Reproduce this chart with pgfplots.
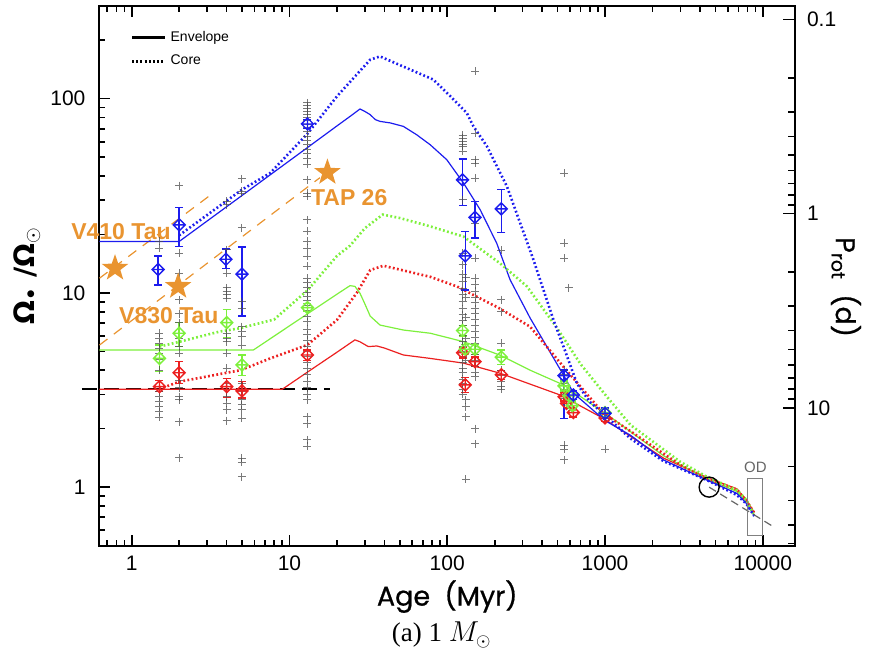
\documentclass[border=0pt]{standalone}
\usepackage{fontspec}
\setmainfont{Liberation Sans}
\newfontfamily\poppins{Poppins}[FakeBold=0.7]
\newfontfamily\dejavu{DejaVu Sans}
\newfontfamily\timesf{Liberation Serif}
\usepackage{pgfplots}
\pgfplotsset{compat=1.18}
\usepackage{pgfplotstable}

\definecolor{bluec}{RGB}{28,28,238}
\definecolor{greenc}{RGB}{125,240,60}
\definecolor{redc}{RGB}{236,32,32}
\definecolor{orangec}{RGB}{233,148,48}

\pgfdeclareplotmark{dplus}{%
  \pgfpathmoveto{\pgfqpoint{0pt}{\pgfplotmarksize}}%
  \pgfpathlineto{\pgfqpoint{\pgfplotmarksize}{0pt}}%
  \pgfpathlineto{\pgfqpoint{0pt}{-\pgfplotmarksize}}%
  \pgfpathlineto{\pgfqpoint{-\pgfplotmarksize}{0pt}}%
  \pgfpathclose
  \pgfpathmoveto{\pgfqpoint{-\pgfplotmarksize}{0pt}}%
  \pgfpathlineto{\pgfqpoint{\pgfplotmarksize}{0pt}}%
  \pgfpathmoveto{\pgfqpoint{0pt}{-\pgfplotmarksize}}%
  \pgfpathlineto{\pgfqpoint{0pt}{\pgfplotmarksize}}%
  \pgfusepathqstroke}
\pgfdeclareplotmark{fstar}{%
  \pgfpathmoveto{\pgfqpointpolar{90}{\pgfplotmarksize}}%
  \pgfpathlineto{\pgfqpointpolar{126}{0.40\pgfplotmarksize}}%
  \pgfpathlineto{\pgfqpointpolar{162}{\pgfplotmarksize}}%
  \pgfpathlineto{\pgfqpointpolar{198}{0.40\pgfplotmarksize}}%
  \pgfpathlineto{\pgfqpointpolar{234}{\pgfplotmarksize}}%
  \pgfpathlineto{\pgfqpointpolar{270}{0.40\pgfplotmarksize}}%
  \pgfpathlineto{\pgfqpointpolar{306}{\pgfplotmarksize}}%
  \pgfpathlineto{\pgfqpointpolar{342}{0.40\pgfplotmarksize}}%
  \pgfpathlineto{\pgfqpointpolar{18}{\pgfplotmarksize}}%
  \pgfpathlineto{\pgfqpointpolar{54}{0.40\pgfplotmarksize}}%
  \pgfpathclose
  \pgfusepathqfill}

\tikzset{env/.style={line width=0.6pt},
         core/.style={line width=1.3pt, dash pattern=on 0.9pt off 1.2pt}}
\pgfplotsset{ebar/.style={error bars/.cd, y dir=both, y explicit,
            error bar style={line width=0.7pt},
            error mark=-,
            error mark options={rotate=90, mark size=2pt, line width=0.7pt}}}

% ---------------- data ----------------
\pgfplotstableread{
x y
0.625 18.4
2.0 18.4
13 56
20 72.4
25 82.6
28 88.5
30 86
32.5 82.7
35 78
37.5 76.4
43.6 75
52.7 72
64 65.2
78 57.9
99.3 48.5
126.7 36.8
161.7 26.8
206 18.0
250 11.7
335 7.43
545 3.78
631 3.05
1000 2.2
1450 1.85
2350 1.38
4425 1.087
6860 0.928
7880 0.824
8830 0.71
}\blueenv
\pgfplotstableread{
x y
0.625 5.08
5.9 5.08
13 7.8
20 9.85
24.2 10.9
26 10.8
28 9.95
30 8.8
32.5 7.59
37.5 6.83
52.7 6.44
78 6.2
126.7 5.61
216 4.78
335 4.0
545 3.36
1079 2.30
2350 1.45
4425 1.10
6860 0.95
7880 0.84
8830 0.72
}\greenenv
\pgfplotstableread{
x y
0.625 3.19
9.0 3.19
13 3.91
20 4.95
26 5.73
28 5.6
31.6 5.29
35.8 5.33
40 5.2
52.7 4.79
78 4.6
126.7 4.35
216 3.86
520 2.98
975 2.26
2350 1.41
4425 1.12
6860 0.98
7880 0.86
8830 0.74
}\redenv
\pgfplotstableread{
x y
2.0 19.8
5 34
7.55 41.4
13 66
20 102.8
32.5 158.8
37.5 165
50 149
81.6 125.4
104.8 102.8
133 84.4
146.6 72
178.6 56.8
239 35.3
352 14.8
471 7.26
560 5.0
663 3.42
800 2.75
1000 2.35
1450 1.78
2350 1.36
4425 1.087
6860 0.91
7880 0.82
8830 0.71
}\bluecore
\pgfplotstableread{
x y
1.5 5.29
2.0 5.6
3.63 6.33
4.87 6.58
8 7.3
13 10.3
20 15.5
24.2 17.5
30 21.5
39 25.3
50 24.3
78 22
126.7 19.5
216 14.2
320 10.8
496 6.6
700 4.3
1000 3.0
1450 2.09
3000 1.35
4425 1.13
6860 0.965
7880 0.86
8700 0.73
}\greencore
\pgfplotstableread{
x y
1.5 3.2
2.0 3.49
4.9 4.0
7.55 4.6
13 5.4
20 7.26
26.7 10.0
32.5 13.1
39.4 13.8
78 12.1
115 10.8
216 8.3
335 6.7
545 4.17
975 2.40
1450 1.94
3000 1.30
4425 1.11
6860 0.97
7880 0.85
8800 0.74
}\redcore
\pgfplotstableread{
x y ep em
1.47 13.2 2.3 2.2
2.0 22.4 5.2 5.1
3.96 14.9 1.9 1.5
5.0 12.5 4.7 4.9
13 74.1 3.8 3.8
125 38.2 10.7 10.1
130 15.5 5.2 5.15
150 24.5 5.1 5.3
220 27.1 6.9 6.6
550 3.75 0.25 1.5
630 2.98 0.15 0.15
1000 2.40 0.15 0.15
}\bluepts
\pgfplotstableread{
x y ep em
1.5 4.6 0.8 0.67
2.0 6.2 0.86 0.9
4.0 7.03 1.17 1.13
5.0 4.26 0.54 0.51
13 8.4 0.4 0.4
125 6.4 0.4 0.4
130 5.13 0.3 0.3
150 5.13 0.3 0.3
220 4.67 0.4 0.4
550 3.32 0.2 0.2
590 2.95 0.15 0.15
620 2.63 0.15 0.15
1000 2.42 0.12 0.12
}\greenpts
\pgfplotstableread{
x y ep em
1.5 3.29 0.25 0.18
2.0 3.88 0.55 0.47
4.0 3.29 0.34 0.39
5.0 3.13 0.37 0.26
13 4.79 0.3 0.3
125 4.92 0.3 0.3
130 3.36 0.3 0.3
150 4.43 0.25 0.25
220 3.79 0.2 0.2
550 2.92 0.15 0.15
570 2.70 0.15 0.15
630 2.42 0.12 0.12
1000 2.27 0.1 0.1
}\redpts
\pgfplotstableread{
x y
1.5 18.4
1.5 17.0
1.5 6.19
1.5 5.83
1.5 5.50
1.5 5.19
1.5 4.89
1.5 4.52
1.5 4.0
1.5 3.3
1.5 3.1
1.5 2.92
1.5 2.75
1.5 2.60
1.5 2.45
1.5 2.29
2 35.7
2 16.0
2 12.6
2 9.2
2 7.8
2 7.0
2 5.83
2 5.3
2 4.89
2 3.9
2 3.56
2 3.24
2 2.92
2 2.81
2 2.17
2 1.42
4 29.6
4 28.4
4 16.7
4 14.8
4 12.6
4 10.6
4 10.2
4 9.8
4 9.4
4 7.0
4 6.2
4 5.83
4 5.6
4 4.89
4 4.1
4 3.4
4 2.92
4 2.71
4 2.5
4 2.2
5 38.7
5 33.3
5 32.6
5 21.6
5 9.0
5 8.3
5 6.7
5 6.3
5 5.95
5 5.39
5 3.42
5 3.1
5 2.81
5 2.66
5 2.5
5 2.26
5 1.41
5 1.34
5 1.13
13 95
13 92
13 89
13 86
13 83
13 80
13 77
13 74
13 71
13 68
13 64
13 61
13 58
13 55
13 52
13 49
13 46
13 38.3
13 32.6
13 31.4
13 23.8
13 20.8
13 18.4
13 17.0
13 15.4
13 13.7
13 11.9
13 11.3
13 10.7
13 10.1
13 9.6
13 9.1
13 8.6
13 8.1
13 7.6
13 7.1
13 6.5
13 6.1
13 5.7
13 5.3
13 5.0
13 4.7
13 4.4
13 4.1
13 3.8
13 3.5
13 3.25
13 3.0
13 2.81
13 2.30
13 2.12
13 1.75
13 1.62
125 65
125 62.7
125 60
125 58
125 56.8
125 53.6
125 30.1
125 16.0
125 14
125 12.5
125 11.5
125 10.5
125 9.8
125 9.0
125 8.3
125 7.7
125 7.2
125 6.8
125 6.4
125 6.0
125 5.6
125 5.3
125 5.0
125 4.7
125 4.4
125 4.1
125 3.9
125 3.6
125 3.4
125 3.2
125 3.0
131 12
131 9.5
131 7.5
131 5.8
131 4.5
131 2.81
131 2.6
131 2.3
131 1.1
150 138
150 66.5
150 48.5
150 46.6
150 39.0
150 22.8
150 15.1
150 11.9
150 11.0
150 10.2
150 9.5
150 8.9
150 8.3
150 7.8
150 7.3
150 6.8
150 6.3
150 5.9
150 5.5
150 5.1
150 4.8
150 4.5
150 4.2
150 3.9
150 3.7
150 2.0
150 1.67
220 16.6
220 9.2
220 8.0
220 5.5
220 4.0
220 3.75
220 3.5
220 3.3
220 3.2
550 41.4
550 18.0
550 15.1
550 4.0
550 3.8
550 3.6
550 3.4
550 3.2
550 3.0
550 2.85
550 2.7
550 1.64
550 1.57
550 1.38
590 10.6
1000 2.5
1000 2.3
1000 1.57
}\graypts

\begin{document}
\begin{tikzpicture}
\begin{axis}[name=ax, at={(0,0)}, anchor=south west,
  scale only axis, width=347.75pt, height=269.8pt,
  xmode=log, ymode=log,
  xmin=0.625, xmax=16000, ymin=0.5, ymax=300,
  xtick={1,10,100,1000,10000}, xticklabels={1,10,100,1000,10000},
  minor xtick={0.7,0.8,0.9,2,3,4,5,6,7,8,9,20,30,40,50,60,70,80,90,200,300,400,500,600,700,800,900,2000,3000,4000,5000,6000,7000,8000,9000},
  ytick={1,10,100}, yticklabels={1,10,100},
  minor ytick={0.6,0.7,0.8,0.9,2,3,4,5,6,7,8,9,20,30,40,50,60,70,80,90,200,300},
  tick align=inside, xtick pos=both, ytick pos=left,
  major tick length=5.3pt, minor tick length=3pt,
  every tick/.style={line width=0.8pt, black},
  axis line style={line width=1pt},
  /pgf/number format/assume math mode=true,
  tick label style={font=\fontsize{10.5}{12}\selectfont},
  yticklabel style={xshift=-3.5pt},
  xticklabel style={yshift=-1.5pt},
  clip=false,
  xlabel={\poppins Age\ \ (Myr)},
  xlabel style={at={(axis description cs:0.5,-0.0945)}, anchor=center, font=\fontsize{13.5}{16}\selectfont},
  ylabel={\dejavu\bfseries Ω\textsubscript{\textbullet}\ /Ω\textsubscript{$\odot$}},
  ylabel style={at={(axis description cs:-0.1043,0.5)}, anchor=center, font=\fontsize{14}{16}\selectfont},
  legend style={at={(axis description cs:0.0439,0.962)}, anchor=north west, draw=none, fill=none,
     font=\fontsize{7}{8}\selectfont, row sep=1.5pt, inner sep=0pt,
     /tikz/every even column/.append style={column sep=4pt}},
  legend image code/.code={\draw[#1] (0pt,0pt) -- (16.5pt,0pt);},
  legend cell align=left,
]
\addlegendimage{black, line width=1.6pt}
\addlegendentry{Envelope}
\addlegendimage{black, line width=1.6pt, dash pattern=on 1pt off 1.1pt}
\addlegendentry{Core}

% gray observations
\addplot[only marks, mark=+, mark size=2pt, black!70, opacity=0.75, mark options={line width=0.5pt}, forget plot] table[x=x,y=y]{\graypts};

% orange dashed tracks
\addplot[orangec, line width=0.6pt, dash pattern=on 5pt off 4pt, forget plot] coordinates {(0.625,11.9) (3.29,32.7)};
\addplot[orangec, line width=0.6pt, dash pattern=on 5pt off 4pt, forget plot] coordinates {(0.625,5.39) (15.6,39.2)};

% black dashed saturation line
\addplot[black, line width=1pt, dash pattern=on 7.5pt off 3.5pt, forget plot] coordinates {(0.484,3.19) (18.1,3.19)};

% model curves
\addplot[redc, env, forget plot] table[x=x,y=y]{\redenv};
\addplot[greenc, env, forget plot] table[x=x,y=y]{\greenenv};
\addplot[bluec, env, forget plot] table[x=x,y=y]{\blueenv};
\addplot[redc, core, forget plot] table[x=x,y=y]{\redcore};
\addplot[greenc, core, forget plot] table[x=x,y=y]{\greencore};
\addplot[bluec, core, forget plot] table[x=x,y=y]{\bluecore};

% percentiles with error bars
\addplot[only marks, mark=dplus, mark size=3pt, redc, line width=0.7pt, forget plot, ebar]
  table[x=x, y=y, y error plus=ep, y error minus=em]{\redpts};
\addplot[only marks, mark=dplus, mark size=3pt, greenc, line width=0.7pt, forget plot, ebar]
  table[x=x, y=y, y error plus=ep, y error minus=em]{\greenpts};
\addplot[only marks, mark=dplus, mark size=3pt, bluec, line width=0.7pt, forget plot, ebar]
  table[x=x, y=y, y error plus=ep, y error minus=em]{\bluepts};

% Sun and Skumanich extension
\addplot[only marks, mark=o, mark size=5pt, black, mark options={line width=0.7pt}, forget plot] coordinates {(4570,1)};
\addplot[black!60, line width=0.6pt, dash pattern=on 4pt off 2.5pt, forget plot] coordinates {(4570,1) (11430,0.632)};

% stars
\addplot[only marks, mark=fstar, mark size=7pt, orangec, forget plot] coordinates {(0.784,13.4) (1.97,10.8) (17.4,41.7)};

\draw[gray, line width=0.5pt] (axis cs:8000,0.566) rectangle (axis cs:10000,1.109);
\node[gray!80!black, font=\fontsize{7.5}{8}\selectfont] at (axis cs:8970,1.27) {OD};

\node[orangec, font=\fontsize{11.5}{13}\selectfont\bfseries] at (axis cs:0.855,20.6) {V410 Tau};
\node[orangec, font=\fontsize{11.5}{13}\selectfont\bfseries] at (axis cs:1.72,7.61) {V830 Tau};
\node[orangec, font=\fontsize{11.5}{13}\selectfont\bfseries] at (axis cs:23.9,30.9) {TAP 26};

\node[font=\fontsize{13.5}{15}\selectfont] at (axis description cs:0.492,-0.1657) {\timesf (a) 1 $M_{\odot}$};
\end{axis}

\begin{axis}[at={(0,0)}, anchor=south west,
  scale only axis, width=347.75pt, height=269.8pt,
  xmode=log, xmin=0.625, xmax=16000, hide x axis,
  axis y line*=right, ymode=log, y dir=reverse,
  ymin=0.08533, ymax=51.2,
  ytick={0.1,1,10}, yticklabels={0.1,1,10},
  minor ytick={0.2,0.3,0.4,0.5,0.6,0.7,0.8,0.9,2,3,4,5,6,7,8,9,20,30,40,50},
  tick align=inside, major tick length=6pt, minor tick length=3.5pt,
  every tick/.style={line width=0.8pt, black},
  axis line style={line width=1pt},
  /pgf/number format/assume math mode=true,
  tick label style={font=\fontsize{10.5}{12}\selectfont},
  yticklabel style={xshift=2.5pt},
  ylabel={\poppins P\textsubscript{rot}\ \ (d)},
  ylabel style={at={(axis description cs:1.0733,0.479)}, anchor=center, rotate=180, font=\fontsize{13.5}{16}\selectfont},
]
\addplot[draw=none, forget plot] coordinates {(1,1) (10,10)};
\end{axis}

\pgfresetboundingbox
\path ([xshift=-49.75pt,yshift=-59.2pt]ax.south west) rectangle ([xshift=37pt,yshift=3pt]ax.north east);
\end{tikzpicture}
\end{document}
